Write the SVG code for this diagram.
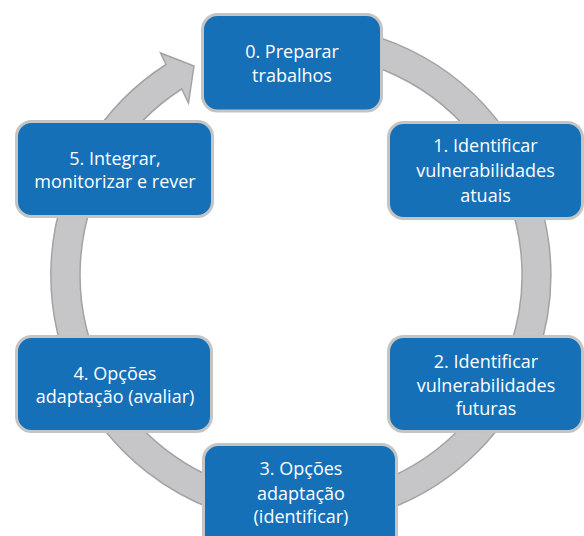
<svg xmlns="http://www.w3.org/2000/svg" width="584" height="536" viewBox="0 0 584 536">
<style>
.box{fill:#1570B8;stroke:#C4C4C4;stroke-width:3}
.lbl{fill:#FFFFFF;font-family:"Open Sans","Liberation Sans",sans-serif;font-size:18px;text-anchor:middle}
.ring{fill:#C6C6C8;stroke:#A3A3A3;stroke-width:1.5;stroke-linejoin:miter}
</style>
<rect width="584" height="536" fill="#FFFFFF"/>
<g id="connectors">
<path class="ring" d="M301,25 A250,250 0 1 1 166,64.5 L160.5,53 L194,66 L188.5,103 L181.7,89 A221,221 0 1 0 301,54 Z"/>
</g>
<g id="node0">
<rect class="box" x="202.5" y="14.5" width="179" height="96.5" rx="15"/>
<text class="lbl" x="292" y="58">0. Preparar</text>
<text class="lbl" x="292" y="82">trabalhos</text>
</g>
<g id="node1">
<rect class="box" x="388.5" y="122.5" width="194" height="96" rx="15"/>
<text class="lbl" x="485.5" y="152">1. Identificar</text>
<text class="lbl" x="485.5" y="177">vulnerabilidades</text>
<text class="lbl" x="485.5" y="202">atuais</text>
</g>
<g id="node2">
<rect class="box" x="388.5" y="336.5" width="194" height="95" rx="15"/>
<text class="lbl" x="486" y="368">2. Identificar</text>
<text class="lbl" x="486" y="392">vulnerabilidades</text>
<text class="lbl" x="486" y="415">futuras</text>
</g>
<g id="node3">
<rect class="box" x="203.5" y="444.5" width="193" height="105" rx="15"/>
<text class="lbl" x="301" y="475">3. Opções</text>
<text class="lbl" x="301" y="500">adaptação</text>
<text class="lbl" x="301" y="523">(identificar)</text>
</g>
<g id="node4">
<rect class="box" x="16.5" y="336.5" width="195" height="95" rx="15"/>
<text class="lbl" x="115" y="380">4. Opções</text>
<text class="lbl" x="115" y="403">adaptação (avaliar)</text>
</g>
<g id="node5">
<rect class="box" x="16.5" y="121.5" width="196" height="95" rx="15"/>
<text class="lbl" x="115" y="165">5. Integrar,</text>
<text class="lbl" x="115" y="188">monitorizar e rever</text>
</g>
</svg>
